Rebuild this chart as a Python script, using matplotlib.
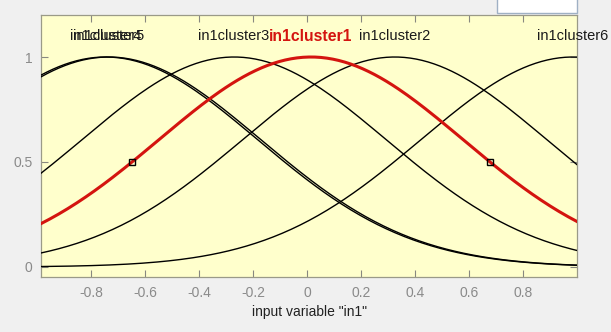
import numpy as np
import matplotlib
matplotlib.use("Agg")
import matplotlib.pyplot as plt
from matplotlib.patches import Rectangle

# Gaussian membership functions of input "in1"
mf_names = ["in1cluster1", "in1cluster2", "in1cluster3", "in1cluster4", "in1cluster5", "in1cluster6"]
mf_centers = [0.015, 0.325, -0.27, -0.746, -0.734, 0.985]
mf_sigma = [0.563, 0.563, 0.563, 0.563, 0.563, 0.563]
selected = "in1cluster1"

x_range = (-0.985, 1.0)
x_ticks = [-0.8, -0.6, -0.4, -0.2, 0, 0.2, 0.4, 0.6, 0.8]
y_ticks = [0, 0.5, 1]
y_tick_labels = ["0", "0.5", "1"]

plt.rcParams["font.family"] = ["Liberation Sans", "DejaVu Sans"]

RED = "#d4140f"
fig = plt.figure(figsize=(6.11, 3.32), dpi=100, facecolor="#f0f0f0")
ax = fig.add_axes([0.0671, 0.1642, 0.9444 - 0.0671, 0.9548 - 0.1642])
ax.set_facecolor("#ffffcc")

x = np.linspace(x_range[0], x_range[1], 181)
for name, c, s in zip(mf_names, mf_centers, mf_sigma):
    y = np.exp(-((x - c) ** 2) / (2 * s ** 2))
    if name == selected:
        ax.plot(x, y, color=RED, lw=2.2, zorder=4)
        # half-height handles on the selected MF
        half = s * np.sqrt(2 * np.log(2))
        ax.plot([c - half, c + half], [0.5, 0.5], ls="none", marker="s",
                ms=5, mfc="none", mec="black", mew=1, zorder=5)
        ax.text(c, 1.1, name, color=RED, fontsize=11.3, fontweight="bold",
                ha="center", va="center", zorder=6)
    else:
        ax.plot(x, y, color="black", lw=1.0, zorder=3)
        ax.text(c, 1.1, name, color="#1a1a1a", fontsize=10.5,
                ha="center", va="center", clip_on=False, zorder=6)

ax.set_xlim(*x_range)
ax.set_ylim(-0.05, 1.2)
ax.set_xticks(x_ticks)
ax.set_xticklabels([f"{t:g}" for t in x_ticks])
ax.set_yticks(y_ticks)
ax.set_yticklabels(y_tick_labels)
ax.tick_params(direction="in", length=5, width=0.8, color="#888880",
               labelcolor="#8a8a8a", labelsize=10, top=True, right=True, pad=6)
for sp in ax.spines.values():
    sp.set_color("#9a9a88")
    sp.set_linewidth(0.9)

ax.set_xlabel('input variable "in1"', fontsize=10, color="#222222", labelpad=4)

# white edit box peeking in at the top right
fig.patches.append(Rectangle((0.813, 0.962), 0.131, 0.06, transform=fig.transFigure,
                             facecolor="white", edgecolor="#9fb0c4", lw=1))

fig.savefig("out.png", dpi=100, facecolor=fig.get_facecolor())
